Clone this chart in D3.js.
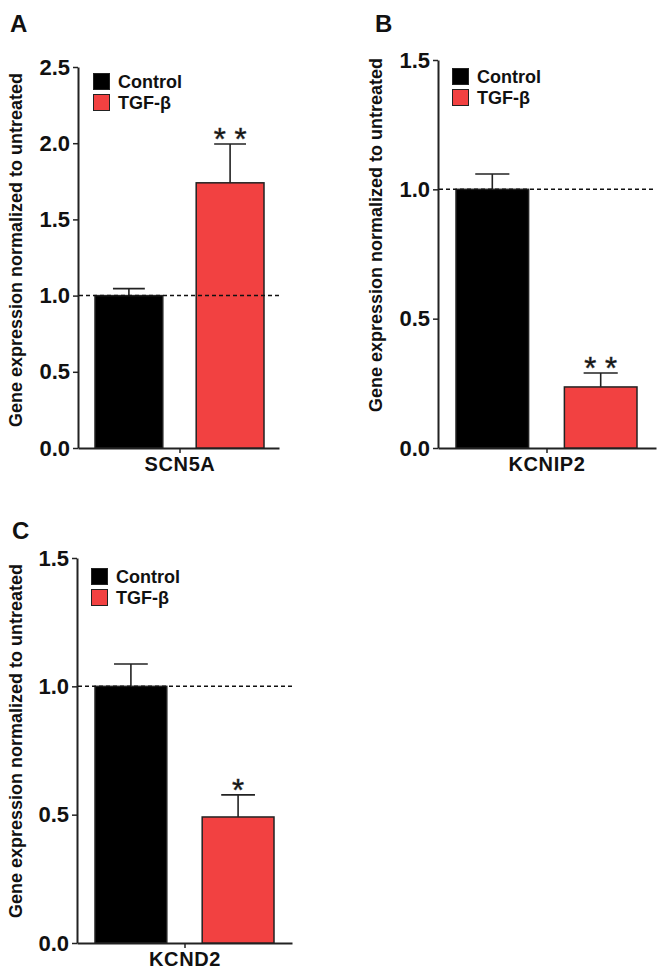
<!DOCTYPE html>
<html>
<head>
<meta charset="utf-8">
<script src="https://cdn.jsdelivr.net/npm/d3@7"></script>
<style>
  html, body { margin: 0; padding: 0; background: #fff; }
  svg { display: block; }
  text { font-family: "Liberation Sans", Arial, sans-serif; fill: #111; }
</style>
</head>
<body>
<svg id="chart" width="662" height="973"></svg>
<script>
// ---- data ----
const panelLetters = ["A", "B", "C"];
const categories = ["SCN5A", "KCNIP2", "KCND2"];
const seriesNames = ["Control", "TGF-β"];
const controlMeans = [1.0, 1.0, 1.0];
const controlErrors = [0.046, 0.059, 0.087];
const tgfMeans = [1.74, 0.236, 0.491];
const tgfErrors = [0.255, 0.054, 0.086];
const significance = ["**", "**", "*"];
const yMaxValues = [2.5, 1.5, 1.5];
const yTickValues = [[0, 0.5, 1.0, 1.5, 2.0, 2.5], [0, 0.5, 1.0, 1.5], [0, 0.5, 1.0, 1.5]];
const referenceLevel = 1.0;
const yAxisTitle = "Gene expression normalized to untreated";

// ---- layout (pixels) ----
const layout = [
  { axisX: 78,  y0: 448, yTop: 67,  axisEnd: 279, bars: [95, 264],  letter: [10, 32],  legend: [93, 73],  ylab: [22, 250] },
  { axisX: 438, y0: 448, yTop: 60,  axisEnd: 656, bars: [456, 637], letter: [375, 32], legend: [452, 68], ylab: [382, 235] },
  { axisX: 77,  y0: 943, yTop: 558, axisEnd: 292, bars: [95, 274],  letter: [12, 539], legend: [91, 568], ylab: [22, 741] }
];
const colors = ["#000000", "#f24141"];
const strokeCol = "#222";

const svg = d3.select("#chart");

categories.forEach((cat, i) => {
  const L = layout[i];
  const g = svg.append("g");
  const y = d3.scaleLinear().domain([0, yMaxValues[i]]).range([L.y0, L.yTop]);
  const x = d3.scaleBand().domain(seriesNames).range(L.bars).paddingInner(0.33).paddingOuter(0);
  const means = [controlMeans[i], tgfMeans[i]];
  const errs = [controlErrors[i], tgfErrors[i]];
  const rows = seriesNames.map((s, k) => ({ s, m: means[k], e: errs[k], c: colors[k] }));

  // panel letter
  g.append("text").attr("x", L.letter[0]).attr("y", L.letter[1])
    .attr("font-size", 24).attr("font-weight", "bold").text(panelLetters[i]);

  // y axis
  const yAxis = d3.axisLeft(y).tickValues(yTickValues[i]).tickFormat(d3.format(".1f"))
    .tickSize(5).tickPadding(3).tickSizeOuter(0);
  const ya = g.append("g").attr("transform", `translate(${L.axisX},0)`).call(yAxis);
  ya.select(".domain").attr("stroke", strokeCol).attr("stroke-width", 2);
  ya.selectAll(".tick line").attr("stroke", strokeCol).attr("stroke-width", 1.5);
  ya.selectAll(".tick text").attr("font-size", 22).attr("font-weight", "bold")
    .attr("fill", "#111").attr("font-family", "Liberation Sans, Arial, sans-serif");

  // x axis
  const mid = (L.bars[0] + L.bars[1]) / 2;
  const xs = d3.scaleLinear().domain([0, 1]).range([L.axisX, L.axisEnd]);
  const xAxis = d3.axisBottom(xs).tickValues([(mid - L.axisX) / (L.axisEnd - L.axisX)])
    .tickFormat(() => cat).tickSize(5).tickPadding(4).tickSizeOuter(0);
  const xa = g.append("g").attr("transform", `translate(0,${L.y0})`).call(xAxis);
  xa.select(".domain").attr("stroke", strokeCol).attr("stroke-width", 2);
  xa.selectAll(".tick line").attr("stroke", strokeCol).attr("stroke-width", 1.5);
  xa.selectAll(".tick text").attr("font-size", 20).attr("font-weight", "bold")
    .attr("letter-spacing", "0.6px")
    .attr("fill", "#111").attr("font-family", "Liberation Sans, Arial, sans-serif");

  // y title
  const yt = g.append("text")
    .attr("transform", `translate(${L.ylab[0]},${L.ylab[1]}) rotate(-90)`)
    .attr("text-anchor", "middle").attr("font-weight", "bold").attr("font-size", 15)
    .text(yAxisTitle);
  const len = yt.node().getComputedTextLength();
  yt.attr("font-size", 15 * 354 / len);

  // error bars (behind bars)
  const eg = g.append("g");
  rows.forEach(r => {
    const cx = x(r.s) + x.bandwidth() / 2;
    const capW = x.bandwidth() * 0.47;
    eg.append("line").attr("x1", cx).attr("x2", cx).attr("y1", y(r.m)).attr("y2", y(r.m + r.e))
      .attr("stroke", strokeCol).attr("stroke-width", 1.6);
    eg.append("line").attr("x1", cx - capW / 2).attr("x2", cx + capW / 2)
      .attr("y1", y(r.m + r.e)).attr("y2", y(r.m + r.e))
      .attr("stroke", strokeCol).attr("stroke-width", 1.6);
  });

  // bars
  g.append("g").selectAll("rect").data(rows).join("rect")
    .attr("x", d => x(d.s)).attr("width", x.bandwidth())
    .attr("y", d => y(d.m)).attr("height", d => L.y0 - y(d.m))
    .attr("fill", d => d.c).attr("stroke", strokeCol).attr("stroke-width", 1.5);

  // reference dashed line
  g.append("line").attr("x1", L.axisX + 1).attr("x2", L.axisEnd)
    .attr("y1", y(referenceLevel)).attr("y2", y(referenceLevel))
    .attr("stroke", "#111").attr("stroke-width", 1.5).attr("stroke-dasharray", "4,3");

  // significance stars
  const tg = rows[1];
  const tcx = x(tg.s) + x.bandwidth() / 2;
  g.append("text").attr("x", tcx).attr("y", y(tg.m + tg.e) + 6)
    .attr("text-anchor", "middle").attr("font-size", 31)
    .attr("font-family", "Liberation Sans, Arial, sans-serif")
    .attr("fill", "#333").attr("stroke", "#333").attr("stroke-width", 0.5)
    .text(significance[i].split("").join(" "));

  // legend
  const lg = g.append("g").attr("transform", `translate(${L.legend[0]},${L.legend[1]})`);
  seriesNames.forEach((s, k) => {
    lg.append("rect").attr("x", 0.5).attr("y", k * 21 + 0.5).attr("width", 16).attr("height", 16)
      .attr("fill", colors[k]).attr("stroke", strokeCol).attr("stroke-width", 1);
    lg.append("text").attr("x", 25).attr("y", k * 21 + 14.5)
      .attr("font-size", 18).attr("font-weight", "bold").text(s);
  });
});
</script>
</body>
</html>
